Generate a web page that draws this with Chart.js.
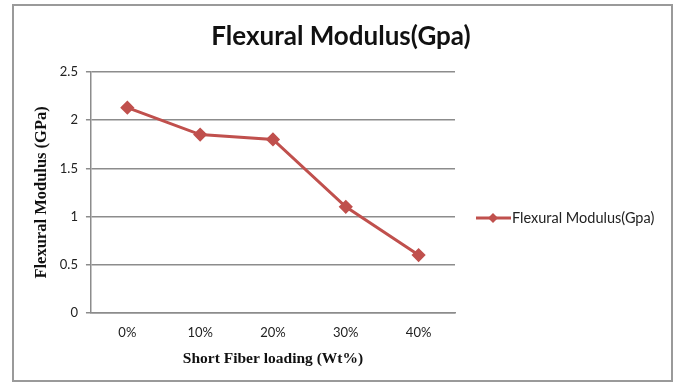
<!DOCTYPE html>
<html>
<head>
<meta charset="utf-8">
<script src="https://cdn.jsdelivr.net/npm/chart.js@4"></script>
<style>
  body { margin: 0; background: #fff; }
  canvas { display: block; }
</style>
</head>
<body>
<canvas id="chart-flexural" width="678" height="383"></canvas>
<script>

var loadings = ['0%', '10%', '20%', '30%', '40%'];
var flexuralModulus = [2.13, 1.85, 1.80, 1.10, 0.60];
var seriesName = 'Flexural Modulus(Gpa)';
var chartTitle = 'Flexural Modulus(Gpa)';

var lineRed = '#C0504D';

// border round the whole chart, title centred on the full width, and the line-and-diamond legend
var framePlugin = {
    id: 'frame',
    afterDraw: function (chart) {
        var ctx = chart.ctx;
        ctx.save();
        ctx.strokeStyle = '#9a9a9a';
        ctx.lineWidth = 2;
        ctx.strokeRect(13, 5, 659, 376);

        ctx.fillStyle = '#111';
        ctx.font = 'bold 26px Lato';
        ctx.textAlign = 'center';
        ctx.textBaseline = 'middle';
        ctx.fillText(chartTitle, 341, 37);

        var y = 218;
        ctx.strokeStyle = lineRed;
        ctx.lineWidth = 3;
        ctx.beginPath();
        ctx.moveTo(476, y);
        ctx.lineTo(511, y);
        ctx.stroke();
        ctx.fillStyle = lineRed;
        ctx.beginPath();
        ctx.moveTo(493, y - 5);
        ctx.lineTo(498, y);
        ctx.lineTo(493, y + 5);
        ctx.lineTo(488, y);
        ctx.closePath();
        ctx.fill();

        ctx.fillStyle = '#222';
        ctx.font = '14.5px Lato';
        ctx.textAlign = 'left';
        ctx.fillText(seriesName, 512, y);
        ctx.restore();
    }
};

new Chart(
    document.getElementById('chart-flexural'),
    {
        type: 'line',
        data: {
            labels: loadings,
            datasets: [
                {
                    label: seriesName,
                    data: flexuralModulus,
                    borderColor: lineRed,
                    backgroundColor: lineRed,
                    borderWidth: 3,
                    pointStyle: 'rectRot',
                    pointRadius: 5,
                    pointHoverRadius: 5,
                    tension: 0
                }
            ]
        },
        options: {
            responsive: false,
            animation: false,
            devicePixelRatio: 1,
            layout: {
                padding: { top: 72, left: 28, right: 223, bottom: 11 }
            },
            plugins: {
                legend: { display: false },
                tooltip: { enabled: false },
                title: { display: false }
            },
            scales: {
                x: {
                    offset: true,
                    grid: { display: false },
                    border: { color: '#8c8c8c', width: 1.5 },
                    ticks: {
                        color: '#222',
                        font: { family: 'Lato', size: 13 },
                        padding: 4
                    },
                    title: {
                        display: true,
                        text: 'Short Fiber loading (Wt%)',
                        color: '#111',
                        font: { family: 'Liberation Serif', size: 15.5, weight: 'bold' },
                        padding: { top: 5 }
                    }
                },
                y: {
                    min: 0,
                    max: 2.5,
                    ticks: {
                        stepSize: 0.5,
                        color: '#222',
                        font: { family: 'Lato', size: 13 },
                        padding: 8,
                        callback: function (value) { return String(value); }
                    },
                    grid: {
                        color: '#8c8c8c',
                        lineWidth: 1.5,
                        tickLength: 5
                    },
                    border: { color: '#8c8c8c', width: 1.5 },
                    title: {
                        display: true,
                        text: 'Flexural Modulus (GPa)',
                        color: '#111',
                        font: { family: 'Liberation Serif', size: 16.5, weight: 'bold' },
                        padding: { bottom: 0 }
                    }
                }
            }
        },
        plugins: [framePlugin]
    }
);

</script>
</body>
</html>
